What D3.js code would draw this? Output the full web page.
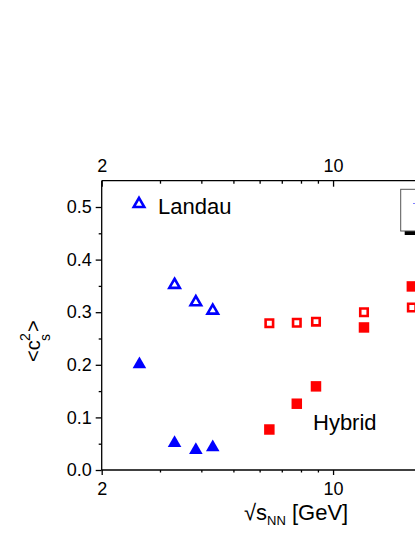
<!DOCTYPE html>
<html>
<head>
<meta charset="utf-8">
<script src="https://cdn.jsdelivr.net/npm/d3@7"></script>
<style>
  body { margin: 0; background: #fff; }
  svg { display: block; overflow: hidden; }
  text { font-family: Arial, "Liberation Sans", sans-serif; fill: #000; }
  .axis path, .axis line { stroke: #000; stroke-width: 1.3; }
</style>
</head>
<body>
<svg id="chart"></svg>
<script>
// energies in GeV
var agsEnergy = [2.6, 3.32, 3.85, 4.33];
var landauOpenEnergy = [3.32, 3.85, 4.33];
var spsEnergy = [6.42, 7.77, 8.88, 12.4, 17.3];

// <c_s^2> values
var landauOpen = [0.352, 0.319, 0.303];
var landauFilled = [0.201, 0.051, 0.038, 0.043];
var hybridOpen = [0.279, 0.280, 0.282, 0.300, 0.309];
var hybridFilled = [0.077, 0.126, 0.159, 0.271, 0.349];

// axis ticks (only the part that fits in the window)
var xMajor = [2, 10];
var xMinor = [3, 4, 5, 6, 7, 8, 9, 20];
var xLabels = ['2', '10'];
var yMajor = [0, 0.1, 0.2, 0.3, 0.4, 0.5];
var yMinor = [0.05, 0.15, 0.25, 0.35, 0.45];
var yLabels = ['0.0', '0.1', '0.2', '0.3', '0.4', '0.5'];

var width = 415;
var height = 537;
var plotLeft = 101.7;
var plotTop = 180.7;
var plotBottom = 470;
var decade = 331;

var blue = '#0000ff';
var red = '#ff0000';

var svg = d3.select('#chart')
    .attr('width', width)
    .attr('height', height);

var x = d3.scaleLog()
    .domain([2, 200])
    .range([plotLeft, plotLeft + decade * 2]);

var y = d3.scaleLinear()
    .domain([0, 0.55])
    .range([plotBottom, plotTop]);

var plotRight = x.range()[1];

// legend box with shadow (cut off at right edge)
svg.append('rect')
    .attr('x', 404.7).attr('y', 193.3)
    .attr('width', 120).attr('height', 41.7)
    .attr('fill', '#000');
svg.append('rect')
    .attr('x', 400.7).attr('y', 189.3)
    .attr('width', 120).attr('height', 41.7)
    .attr('fill', '#fff')
    .attr('stroke', '#555')
    .attr('stroke-width', 1);
svg.append('line')
    .attr('x1', 413).attr('x2', 416)
    .attr('y1', 203.5).attr('y2', 203.5)
    .attr('stroke', '#8080ff')
    .attr('stroke-width', 1.2);

// axes
function fmt(d) {
    return xLabels[xMajor.indexOf(d)];
}

var bottomAxis = svg.append('g')
    .attr('class', 'axis')
    .attr('transform', 'translate(0,' + plotBottom + ')')
    .call(d3.axisBottom(x).tickValues(xMajor).tickFormat(fmt).tickSize(5).tickSizeOuter(0));
svg.append('g')
    .attr('class', 'axis')
    .attr('transform', 'translate(0,' + plotBottom + ')')
    .call(d3.axisBottom(x).tickValues(xMinor).tickFormat('').tickSize(2.5).tickSizeOuter(0));

// top axis: labels above, ticks pointing into the plot
var topAxis = svg.append('g')
    .attr('class', 'axis')
    .attr('transform', 'translate(0,' + plotTop + ')')
    .call(d3.axisTop(x).tickValues(xMajor).tickFormat(fmt).tickSize(-6).tickSizeOuter(0).tickPadding(9));
svg.append('g')
    .attr('class', 'axis')
    .attr('transform', 'translate(0,' + plotTop + ')')
    .call(d3.axisTop(x).tickValues(xMinor).tickFormat('').tickSize(-3).tickSizeOuter(0));

var leftAxis = svg.append('g')
    .attr('class', 'axis')
    .attr('transform', 'translate(' + plotLeft + ',0)')
    .call(d3.axisLeft(y).tickValues(yMajor).tickFormat(function (d, i) { return yLabels[i]; })
        .tickSize(6).tickSizeOuter(0).tickPadding(4));
svg.append('g')
    .attr('class', 'axis')
    .attr('transform', 'translate(' + plotLeft + ',0)')
    .call(d3.axisLeft(y).tickValues(yMinor).tickFormat('').tickSize(3).tickSizeOuter(0));

svg.selectAll('.axis path.domain').remove();
svg.selectAll('.axis text').attr('font-size', 18);
bottomAxis.selectAll('text').attr('dy', '0.95em');

// frame lines
svg.append('line').attr('x1', plotLeft).attr('x2', plotRight).attr('y1', plotBottom).attr('y2', plotBottom)
    .attr('stroke', '#000').attr('stroke-width', 1.3);
svg.append('line').attr('x1', plotLeft).attr('x2', plotRight).attr('y1', plotTop).attr('y2', plotTop)
    .attr('stroke', '#000').attr('stroke-width', 1.3);
svg.append('line').attr('x1', plotLeft).attr('x2', plotLeft).attr('y1', plotTop).attr('y2', plotBottom)
    .attr('stroke', '#000').attr('stroke-width', 1.3);

// markers
var triFilled = d3.symbol().type(d3.symbolTriangle).size(80);
var triOpen = d3.symbol().type(d3.symbolTriangle).size(48);
var sqFilled = d3.symbol().type(d3.symbolSquare).size(110);
var sqOpen = d3.symbol().type(d3.symbolSquare).size(56);

function drawSeries(xs, ys, sym, color, filled) {
    svg.append('g').selectAll('path')
        .data(ys)
        .enter()
        .append('path')
        .attr('d', sym)
        .attr('transform', function (d, i) {
            return 'translate(' + x(xs[i]) + ',' + y(d) + ')';
        })
        .attr('fill', filled ? color : 'none')
        .attr('stroke', filled ? 'none' : color)
        .attr('stroke-width', filled ? 0 : 2.6);
}

drawSeries(agsEnergy, landauFilled, triFilled, blue, true);
drawSeries(landauOpenEnergy, landauOpen, triOpen, blue, false);
drawSeries(spsEnergy, hybridOpen, sqOpen, red, false);
drawSeries(spsEnergy, hybridFilled, sqFilled, red, true);

// "Landau" key
svg.append('path')
    .attr('d', triOpen)
    .attr('transform', 'translate(139,204)')
    .attr('fill', 'none')
    .attr('stroke', blue)
    .attr('stroke-width', 2.6);
svg.append('text')
    .attr('x', 158).attr('y', 214)
    .attr('font-size', 22)
    .text('Landau');

svg.append('text')
    .attr('x', 313).attr('y', 429.5)
    .attr('font-size', 22)
    .text('Hybrid');

// x axis title
var xt = svg.append('text')
    .attr('x', 244).attr('y', 520)
    .attr('font-size', 22);
xt.append('tspan').text('\u221As');
xt.append('tspan').attr('font-size', 13).attr('dy', 5).text('NN');
xt.append('tspan').attr('dy', -5).text(' [GeV]');

// y axis title
var yt = svg.append('g')
    .attr('transform', 'translate(40,341) rotate(-90)');
yt.append('text').attr('x', -21).attr('y', 0).attr('font-size', 20).text('<c');
yt.append('text').attr('x', 0).attr('y', -10).attr('font-size', 14).text('2');
yt.append('text').attr('x', 0).attr('y', 10).attr('font-size', 14).text('s');
yt.append('text').attr('x', 9).attr('y', 0).attr('font-size', 20).text('>');
</script>
</body>
</html>
